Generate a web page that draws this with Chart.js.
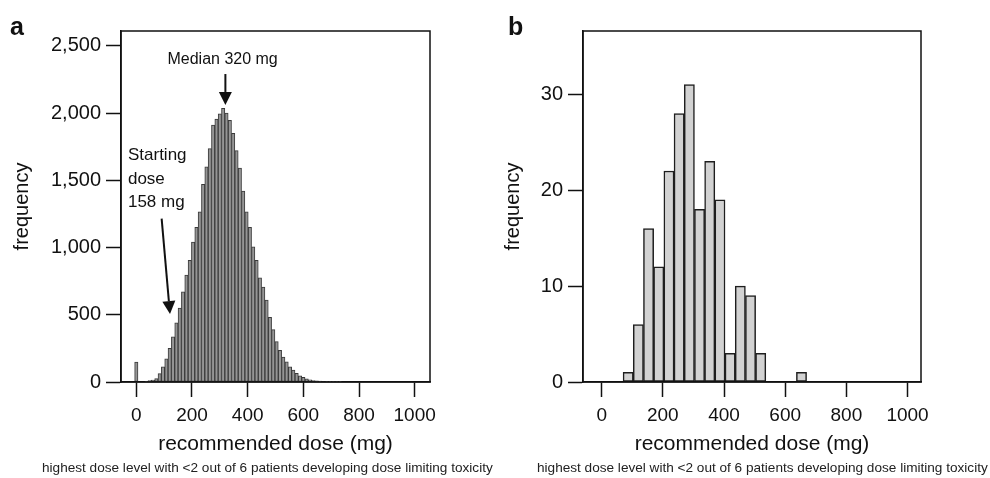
<!DOCTYPE html>
<html>
<head>
<meta charset="utf-8">
<script src="https://cdn.jsdelivr.net/npm/chart.js@4/dist/chart.umd.min.js"></script>
<style>
  body { margin: 0; background: #fff; font-family: "Liberation Sans", Arial, sans-serif; }
  #wrap { position: relative; width: 990px; height: 478px; overflow: hidden; }
  canvas { position: absolute; top: 0; }
  .letter { position: absolute; font-weight: bold; font-size: 25px; color: #111; }
  .caption { position: absolute; top: 460px; font-size: 13.6px; color: #222; white-space: nowrap; }
</style>
</head>
<body>
<div id="wrap">
  <canvas id="chartA" width="495" height="478" style="left:0"></canvas>
  <canvas id="chartB" width="495" height="478" style="left:495px"></canvas>
  <div class="letter" style="left:10px;top:12px">a</div>
  <div class="letter" style="left:508px;top:12px">b</div>
  <div class="caption" style="left:42px">highest dose level with &lt;2 out of 6 patients developing dose limiting toxicity</div>
  <div class="caption" style="left:537px">highest dose level with &lt;2 out of 6 patients developing dose limiting toxicity</div>
</div>
<script>
// panel a: simulated trials, recommended dose histogram (12 mg bins)
const doseA = [0, 12, 24, 36, 48, 60, 72, 84, 96, 108, 120, 132, 144, 156, 168, 180,
  192, 204, 216, 228, 240, 252, 264, 276, 288, 300, 312, 324, 336, 348, 360, 372,
  384, 396, 408, 420, 432, 444, 456, 468, 480, 492, 504, 516, 528, 540, 552, 564,
  576, 588, 600, 612, 624, 636, 648, 660, 672, 684, 696, 708, 720, 732, 744];
const freqA = [149, 0, 0, 3, 10, 15, 25, 62, 112, 172, 250, 335, 440, 550, 670, 795,
  905, 1040, 1150, 1265, 1470, 1600, 1735, 1910, 1955, 1995, 2035, 2000, 1945, 1850, 1720, 1590,
  1420, 1265, 1150, 1005, 905, 775, 705, 610, 480, 390, 300, 235, 185, 150, 112, 88,
  64, 45, 34, 24, 16, 11, 8, 6, 4, 3, 2, 2, 1, 1, 0];

// panel b: observed recommended doses
const doseB = [86.7, 120, 153.3, 186.7, 220, 253.3, 286.7, 320, 353.3, 386.7, 420, 453.3,
  486.7, 520, 553.3, 586.7, 620, 653.3];
const freqB = [1, 6, 16, 12, 22, 28, 31, 18, 23, 19, 3, 10, 9, 3, 0, 0, 0, 1];

const doseTicks = [0, 200, 400, 600, 800, 1000];
const freqTicksA = [0, 500, 1000, 1500, 2000, 2500];
const freqTicksB = [0, 10, 20, 30];

const FONT = '"Liberation Sans", Arial, sans-serif';

const framePlugin = {
  id: "frame",
  afterDatasetsDraw(chart) {
    const { ctx, chartArea: a } = chart;
    ctx.save();
    ctx.strokeStyle = "#111";
    ctx.lineWidth = 1.5;
    ctx.strokeRect(a.left, a.top, a.right - a.left, a.bottom - a.top);
    ctx.restore();
  },
};

function drawArrow(ctx, x1, y1, x2, y2) {
  const ang = Math.atan2(y2 - y1, x2 - x1);
  const len = 13, half = 6.5;
  const bx = x2 - len * Math.cos(ang), by = y2 - len * Math.sin(ang);
  ctx.beginPath();
  ctx.moveTo(x1, y1);
  ctx.lineTo(bx, by);
  ctx.stroke();
  ctx.beginPath();
  ctx.moveTo(x2, y2);
  ctx.lineTo(bx + half * Math.sin(ang), by - half * Math.cos(ang));
  ctx.lineTo(bx - half * Math.sin(ang), by + half * Math.cos(ang));
  ctx.closePath();
  ctx.fill();
}

// arrows and notes in panel a, placed in data units
const notesPlugin = {
  id: "notes",
  afterDraw(chart) {
    const { ctx, scales: { x, y } } = chart;
    ctx.save();
    ctx.fillStyle = "#111";
    ctx.strokeStyle = "#111";
    ctx.lineWidth = 2;
    ctx.textBaseline = "middle";
    ctx.textAlign = "center";
    ctx.font = "16px " + FONT;
    ctx.fillText("Median 320 mg", x.getPixelForValue(310), y.getPixelForValue(2400));
    drawArrow(ctx, x.getPixelForValue(320), y.getPixelForValue(2290),
      x.getPixelForValue(320), y.getPixelForValue(2060));
    ctx.textAlign = "left";
    ctx.font = "17px " + FONT;
    const lx = x.getPixelForValue(-30);
    ctx.fillText("Starting", lx, y.getPixelForValue(1683));
    ctx.fillText("dose", lx, y.getPixelForValue(1507));
    ctx.fillText("158 mg", lx, y.getPixelForValue(1338));
    drawArrow(ctx, x.getPixelForValue(91), y.getPixelForValue(1215),
      x.getPixelForValue(121), y.getPixelForValue(505));
    ctx.restore();
  },
};

function makeChart(id, doses, freqs, opts) {
  const ctx = document.getElementById(id).getContext("2d");
  return new Chart(ctx, {
    type: "bar",
    data: {
      datasets: [
        {
          data: doses.map((d, i) => ({ x: d, y: freqs[i] })),
          backgroundColor: opts.fill,
          borderColor: opts.edge,
          borderWidth: opts.edgeWidth,
          borderSkipped: false,
          barPercentage: 1,
          categoryPercentage: 1,
        },
      ],
    },
    options: {
      responsive: false,
      animation: false,
      devicePixelRatio: 1,
      layout: { padding: { left: 0, top: 31, right: opts.padRight, bottom: 0 } },
      plugins: { legend: { display: false }, tooltip: { enabled: false } },
      scales: {
        x: {
          type: "linear",
          offset: false,
          min: opts.xMin,
          max: opts.xMax,
          afterBuildTicks: (s) => { s.ticks = doseTicks.map((v) => ({ value: v })); },
          afterFit: (s) => { s.height = 96; },
          grid: { offset: false, drawOnChartArea: false, tickLength: 15, tickWidth: 1.5, tickColor: "#111" },
          border: { color: "#111", width: 1.5 },
          ticks: { color: "#111", padding: 7, maxRotation: 0, font: { family: FONT, size: 19 },
            callback: (v) => String(v) },
          title: { display: true, text: "recommended dose (mg)", color: "#111",
            font: { family: FONT, size: 21 }, padding: { top: 0, bottom: 21 } },
        },
        y: {
          min: 0,
          max: opts.yMax,
          afterBuildTicks: (s) => { s.ticks = opts.yTicks.map((v) => ({ value: v })); },
          afterFit: (s) => { s.width = opts.yWidth; },
          grid: { drawOnChartArea: false, tickLength: 15, tickWidth: 1.5, tickColor: "#111" },
          border: { color: "#111", width: 1.5 },
          ticks: { color: "#111", padding: 5, font: { family: FONT, size: 20 } },
          title: { display: true, text: "frequency", color: "#111",
            font: { family: FONT, size: 20 }, padding: { top: opts.titlePad, bottom: 0 } },
        },
      },
    },
    plugins: opts.plugins,
  });
}

makeChart("chartA", doseA, freqA, {
  fill: "#959595", edge: "#3a3a3a", edgeWidth: 1,
  xMin: -55, xMax: 1055, yMax: 2610, yTicks: freqTicksA,
  yWidth: 121, padRight: 65, titlePad: 10,
  plugins: [framePlugin, notesPlugin],
});

makeChart("chartB", doseB, freqB, {
  fill: "#d2d2d2", edge: "#1e1e1e", edgeWidth: 1.5,
  xMin: -61, xMax: 1044, yMax: 36.6, yTicks: freqTicksB,
  yWidth: 88, padRight: 69, titlePad: 6,
  plugins: [framePlugin],
});
</script>
</body>
</html>
